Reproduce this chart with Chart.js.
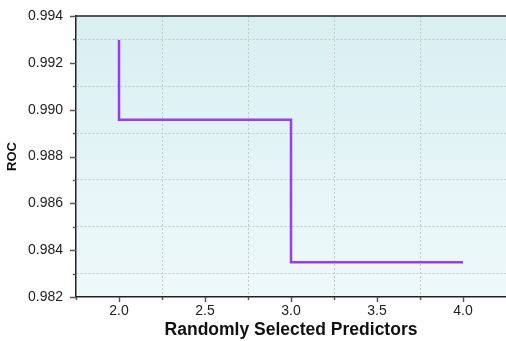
<!DOCTYPE html>
<html>
<head>
<meta charset="utf-8">
<script src="https://cdn.jsdelivr.net/npm/chart.js@4.4.0/dist/chart.umd.min.js"></script>
<style>
  html, body { margin: 0; padding: 0; background: #fff; }
  #wrap { width: 506px; height: 341px; }
</style>
</head>
<body>
<div id="wrap"><canvas id="chart"></canvas></div>
<script>
// data
const predictors = [2, 3, 4];
const roc = [0.99297, 0.98957, 0.98348];

// tick labels
const xTickLabels = ['2.0', '2.5', '3.0', '3.5', '4.0'];
const yTickLabels = ['0.982', '0.984', '0.986', '0.988', '0.990', '0.992', '0.994'];

const isMinorX = v => Math.round(v * 4) % 2 === 1;
const isMinorY = v => Math.round(v * 1000) % 2 === 1;

// light gradient behind the plot
const bgPlugin = {
  id: 'bg',
  beforeDraw(chart) {
    const { ctx, chartArea: a } = chart;
    const g = ctx.createLinearGradient(0, a.top, 0, a.bottom);
    g.addColorStop(0, '#d9eff2');
    g.addColorStop(1, '#eef9fb');
    ctx.save();
    ctx.fillStyle = g;
    ctx.fillRect(a.left, a.top, a.right - a.left, a.bottom - a.top);
    ctx.restore();
  }
};

// tick marks (long for major, short for minor) + top frame line
const tickPlugin = {
  id: 'tickmarks',
  afterDraw(chart) {
    const { ctx, chartArea: a, scales } = chart;
    ctx.save();
    ctx.strokeStyle = '#555';
    ctx.lineWidth = 1.5;
    scales.y.ticks.forEach(t => {
      const py = Math.round(scales.y.getPixelForValue(t.value)) + 0.5;
      const len = isMinorY(t.value) ? 3 : 6;
      ctx.beginPath();
      ctx.moveTo(a.left, py);
      ctx.lineTo(a.left - len, py);
      ctx.stroke();
    });
    scales.x.ticks.forEach(t => {
      const px = Math.round(scales.x.getPixelForValue(t.value)) + 0.5;
      if (px > a.right - 1) return;
      const len = isMinorX(t.value) ? 3 : 5;
      ctx.beginPath();
      ctx.moveTo(px, a.bottom);
      ctx.lineTo(px, a.bottom + len);
      ctx.stroke();
    });
    ctx.strokeStyle = '#222';
    ctx.beginPath();
    ctx.moveTo(a.left, a.top);
    ctx.lineTo(a.right, a.top);
    ctx.stroke();
    ctx.restore();
  }
};

new Chart(document.getElementById('chart'), {
  type: 'line',
  data: {
    datasets: [{
      data: predictors.map((p, i) => ({ x: p, y: roc[i] })),
      stepped: 'after',
      borderColor: '#9a3cf7',
      borderWidth: 2.5,
      pointRadius: 0,
      fill: false
    }]
  },
  options: {
    responsive: true,
    maintainAspectRatio: false,
    animation: false,
    layout: { padding: { top: 16, right: 0, left: 0, bottom: 0 } },
    plugins: { legend: { display: false }, tooltip: { enabled: false } },
    scales: {
      x: {
        type: 'linear',
        min: 1.75,
        max: 4.25,
        afterFit: s => { s.height = 44; s.paddingRight = 0; s.paddingLeft = 0; },
        ticks: {
          stepSize: 0.25,
          padding: 6,
          maxRotation: 0,
          autoSkip: false,
          color: '#222',
          font: { family: 'Liberation Sans, Arial, sans-serif', size: 14 },
          callback: v => {
            const s = Number(v).toFixed(1);
            return !isMinorX(v) && xTickLabels.includes(s) ? s : '';
          }
        },
        grid: {
          drawTicks: false,
          color: c => (c.tick && isMinorX(c.tick.value) && c.tick.value > 1.8 && c.tick.value < 4.2) ? '#c8c8c8' : 'transparent',
          lineWidth: 1
        },
        border: { display: true, color: '#222', width: 1.5, dash: [2, 2] },
        title: {
          display: true,
          text: 'Randomly Selected Predictors',
          color: '#111',
          font: { family: 'Liberation Sans, Arial, sans-serif', size: 17.5, weight: 'bold' },
          padding: { top: 0, bottom: 0 }
        }
      },
      y: {
        min: 0.982,
        max: 0.994,
        afterFit: s => { s.width = 76; s.paddingTop = 0; s.paddingBottom = 0; },
        ticks: {
          stepSize: 0.001,
          padding: 13,
          autoSkip: false,
          color: '#222',
          font: { family: 'Liberation Sans, Arial, sans-serif', size: 14 },
          callback: v => {
            const s = Number(v).toFixed(3);
            return !isMinorY(v) && yTickLabels.includes(s) ? s : '';
          }
        },
        grid: {
          drawTicks: false,
          color: c => (c.tick && isMinorY(c.tick.value)) ? '#c8c8c8' : 'transparent',
          lineWidth: 1
        },
        border: { display: true, color: '#222', width: 1.5, dash: [2, 2] },
        title: {
          display: true,
          text: 'ROC',
          color: '#111',
          font: { family: 'Liberation Sans, Arial, sans-serif', size: 13, weight: 'bold' },
          padding: { top: 5, bottom: 0 }
        }
      }
    }
  },
  plugins: [bgPlugin, tickPlugin]
});
</script>
</body>
</html>
